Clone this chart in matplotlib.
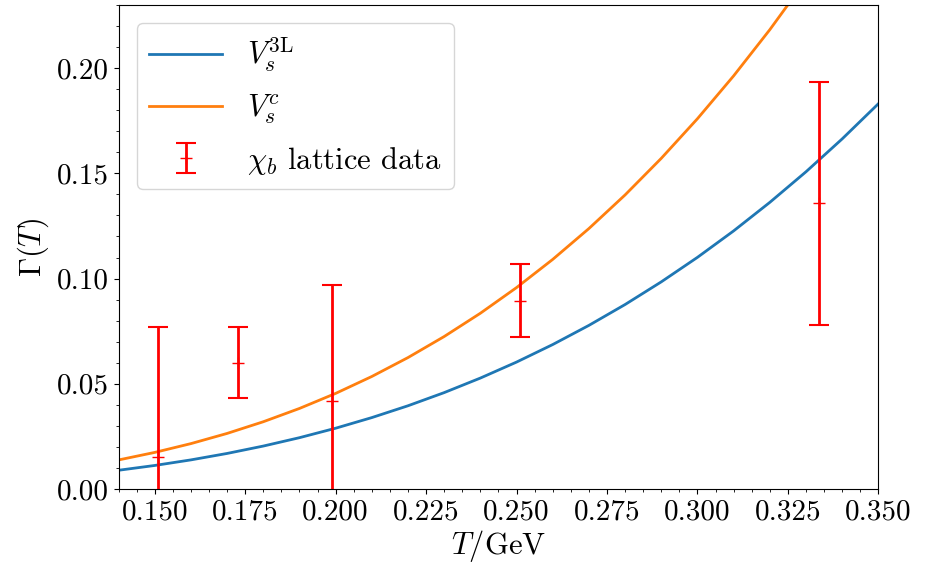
import numpy as np
import matplotlib
matplotlib.use('Agg')
import matplotlib.pyplot as plt
from matplotlib.ticker import MultipleLocator

plt.rcParams['font.family'] = 'serif'
plt.rcParams['font.serif'] = ['cmr10']
plt.rcParams['mathtext.fontset'] = 'cm'
plt.rcParams['axes.formatter.use_mathtext'] = True

# curves
T_curve = [0.14, 0.15, 0.16, 0.17, 0.18, 0.19, 0.20, 0.21, 0.22, 0.23, 0.24,
           0.25, 0.26, 0.27, 0.28, 0.29, 0.30, 0.31, 0.32, 0.33, 0.34, 0.35]
gamma_3L = [0.00890, 0.01118, 0.01383, 0.01689, 0.02040, 0.02438, 0.02888,
            0.03393, 0.03955, 0.04580, 0.05271, 0.06031, 0.06864, 0.07775,
            0.08766, 0.09843, 0.11008, 0.12265, 0.13621, 0.15075, 0.16637,
            0.18307]
T_c = T_curve[:20]
gamma_c = [0.01380, 0.01738, 0.02156, 0.02640, 0.03195, 0.03827, 0.04542,
           0.05346, 0.06245, 0.07245, 0.08351, 0.09571, 0.10910, 0.12376,
           0.13974, 0.15713, 0.17596, 0.19632, 0.21827, 0.24190]

# lattice points
T_lat = [0.151, 0.173, 0.199, 0.251, 0.3336]
gamma_lat = [0.0150, 0.0600, 0.0416, 0.0895, 0.1357]
gamma_err = [0.0620, 0.0169, 0.0555, 0.0173, 0.0576]

fig = plt.figure(figsize=(9.28, 5.69), dpi=100)
ax = fig.add_axes([0.1277, 0.1406, 0.8188, 0.8506])

ax.plot(T_curve, gamma_3L, color='tab:blue', lw=2, label=r'$V_s^{\mathrm{3L}}$')
ax.plot(T_c, gamma_c, color='tab:orange', lw=2, label=r'$V_s^c$')
ax.errorbar(T_lat, gamma_lat, yerr=gamma_err, fmt='+', color='r', ms=8,
            elinewidth=2, capsize=7, capthick=1.5, label=r'$\chi_b$ lattice data')

ax.set_xlim(0.14, 0.35)
ax.set_ylim(0, 0.23)
ax.set_xticks([0.15, 0.175, 0.2, 0.225, 0.25, 0.275, 0.3, 0.325, 0.35])
ax.set_xticklabels(['0.150', '0.175', '0.200', '0.225', '0.250', '0.275',
                    '0.300', '0.325', '0.350'])
ax.set_yticks([0.0, 0.05, 0.1, 0.15, 0.2])
ax.set_yticklabels(['0.00', '0.05', '0.10', '0.15', '0.20'])
ax.xaxis.set_minor_locator(MultipleLocator(0.005))
ax.yaxis.set_minor_locator(MultipleLocator(0.01))
ax.tick_params(labelsize=21)

ax.set_xlabel(r'$T/\mathrm{GeV}$', fontsize=22, labelpad=2)
ax.set_ylabel(r'$\Gamma(T)$', fontsize=22, labelpad=4)

ax.legend(loc='upper left', fontsize=22, borderaxespad=0.6,
          handlelength=2.4, handletextpad=0.8, labelspacing=0.6)

fig.savefig('out.png', dpi=100)
